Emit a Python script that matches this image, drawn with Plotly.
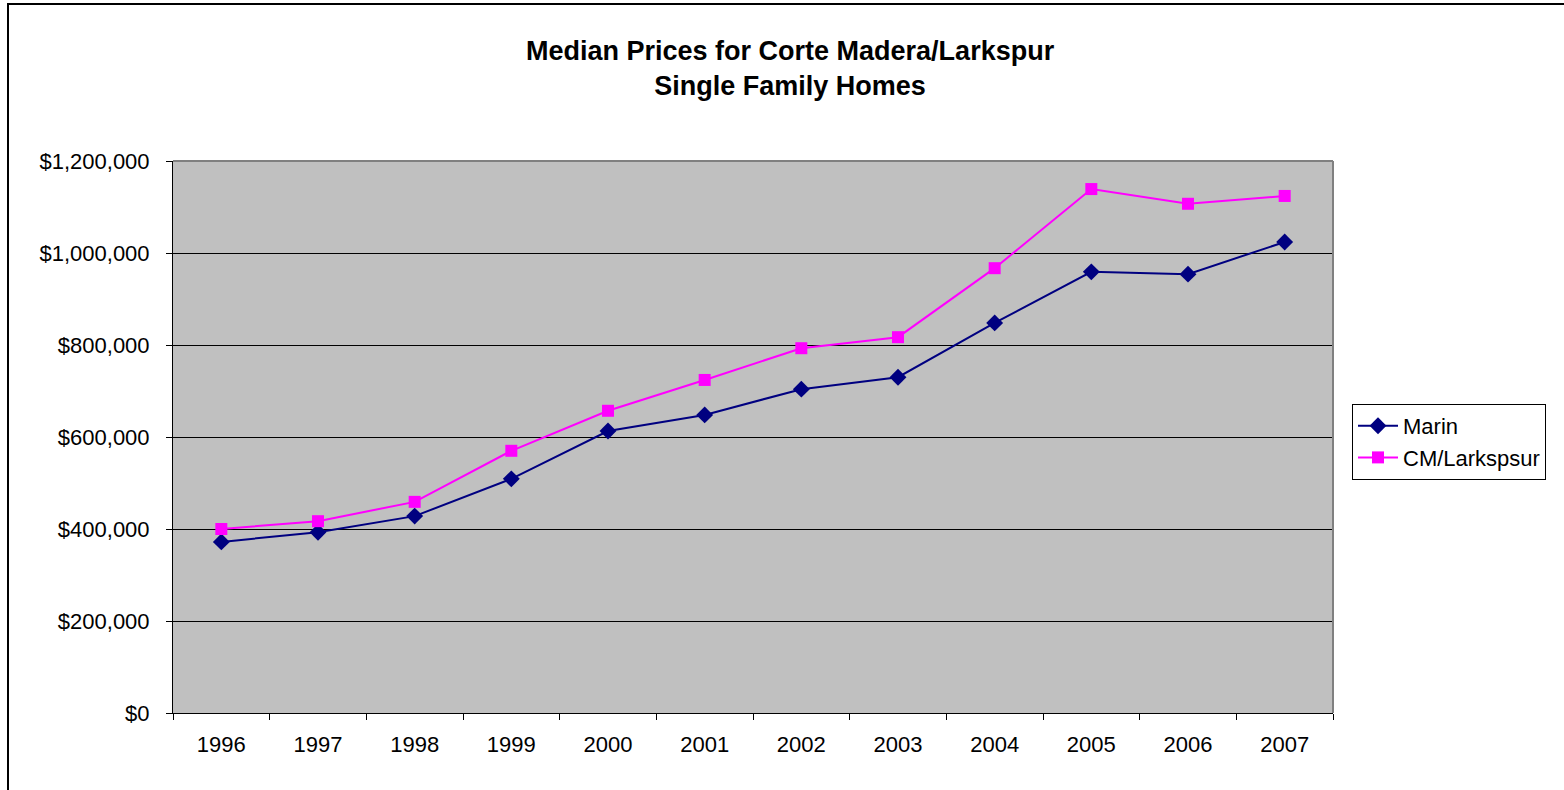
import plotly.graph_objects as go

years = ["1996", "1997", "1998", "1999", "2000", "2001", "2002", "2003", "2004", "2005", "2006", "2007"]
marin = [372000, 393000, 428000, 509000, 613000, 648000, 704000, 730000, 848000, 959000, 954000, 1024000]
cm_larkspur = [400000, 417000, 459000, 570000, 657000, 724000, 793000, 817000, 967000, 1139000, 1107000, 1124000]
y_ticks = [0, 200000, 400000, 600000, 800000, 1000000, 1200000]
y_tick_labels = ["$0", "$200,000", "$400,000", "$600,000", "$800,000", "$1,000,000", "$1,200,000"]

FONT = "Liberation Sans, Arial, sans-serif"

fig = go.Figure()
fig.add_trace(go.Scatter(
    x=years, y=marin, name="Marin", mode="lines+markers",
    line=dict(color="#000080", width=2),
    marker=dict(symbol="diamond", size=13, color="#000080"),
))
fig.add_trace(go.Scatter(
    x=years, y=cm_larkspur, name="CM/Larkspsur", mode="lines+markers",
    line=dict(color="#FF00FF", width=2),
    marker=dict(symbol="square", size=12, color="#FF00FF"),
))

# body margin removed via post_script, so figure coords = screen coords
L, R, T, B = 173, 1333, 161, 713
W, H = 1564, 790
pw, ph = R - L, B - T

def px(x):
    return (x - L) / pw

def py(y):
    return (B - y) / ph

fig.update_layout(
    width=W, height=H,
    margin=dict(l=L, r=W - R, t=T, b=H - B, pad=0),
    paper_bgcolor="white",
    plot_bgcolor="#C0C0C0",
    font=dict(family=FONT, size=22, color="black"),
    showlegend=True,
    legend=dict(
        x=px(1352), y=py(404), xanchor="left", yanchor="top",
        bgcolor="white", bordercolor="black", borderwidth=1,
        font=dict(size=22, family=FONT), itemwidth=40,
        tracegroupgap=0,
    ),
    xaxis=dict(
        type="category", range=[-0.5, 11.5],
        showgrid=False, ticks="outside", ticklen=6, tickcolor="black",
        tickson="boundaries", showline=True, linecolor="black", linewidth=1,
        tickfont=dict(size=22, family=FONT), zeroline=False,
        ticklabelstandoff=12,
    ),
    yaxis=dict(
        range=[0, 1200000], tickvals=y_ticks, ticktext=y_tick_labels,
        showgrid=True, gridcolor="black", gridwidth=1,
        ticks="outside", ticklen=6, tickcolor="black",
        showline=True, linecolor="black", linewidth=1,
        tickfont=dict(size=22, family=FONT), zeroline=False,
        ticklabelstandoff=12,
    ),
    annotations=[
        dict(
            text="<b>Median Prices for Corte Madera/Larkspur</b><br><b>Single Family Homes</b>",
            x=px(790), y=py(69), xref="paper", yref="paper",
            xanchor="center", yanchor="middle", showarrow=False,
            font=dict(size=27, family=FONT, color="black"),
        )
    ],
    shapes=[
        # outer chart frame (extends beyond the visible window)
        dict(type="rect", xref="paper", yref="paper",
             x0=px(8), y0=py(830), x1=px(1620), y1=py(4),
             line=dict(color="black", width=2), layer="below"),
        # plot area border right/top
        dict(type="line", xref="paper", yref="paper",
             x0=1, y0=0, x1=1, y1=1, line=dict(color="#808080", width=2)),
        dict(type="line", xref="paper", yref="paper",
             x0=0, y0=1, x1=1, y1=1, line=dict(color="#808080", width=2)),
    ],
)

fig.write_html(
    "out.html",
    config={"displayModeBar": False},
    post_script="document.body.style.margin='0';document.body.style.overflow='hidden';",
)
